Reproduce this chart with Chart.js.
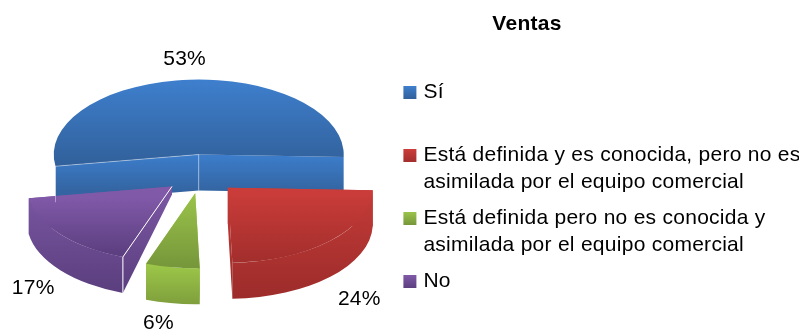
<!DOCTYPE html>
<html>
<head>
<meta charset="utf-8">
<script src="https://cdn.jsdelivr.net/npm/chart.js@4"></script>
<style>
  html, body { margin: 0; padding: 0; background: #fff; }
  canvas { display: block; }
</style>
</head>
<body>
<canvas id="ventasChart" width="799" height="329"></canvas>
<script>
const categories = ["Sí", "Está definida y es conocida, pero no es asimilada por el equipo comercial", "Está definida pero no es conocida y asimilada por el equipo comercial", "No"];
const values = [53, 24, 6, 17];
const legendLines = [
    ["Sí", ""],
    ["Está definida y es conocida, pero no es", "asimilada por el equipo comercial"],
    ["Está definida pero no es conocida y", "asimilada por el equipo comercial"],
    "No"
];

// look of the 3D slices
const topColors = [["#3e7fcd", "#31609a"], ["#cc3d3a", "#a22e2c"], ["#9bc34b", "#76963a"], ["#8059a8", "#5c3f80"]];
const wallColors = [["#3c7dcb", "#3465a2"], ["#c43b38", "#9c2c2a"], ["#9fcb4a", "#7f9f3c"], ["#7a56a2", "#5a3e7d"]];
const legendColors = [["#3e7fcd", "#31609a"], ["#cc3d3a", "#a22e2c"], ["#9bc34b", "#76963a"], ["#8059a8", "#5c3f80"]];
const topSpan = [[-1, 0.16], [0, 1], [0, 1], [0.15, 0.9]];
const wallSpan = [[0, 0], [0, 1], [0.9, 1], [0.1, 0.95]];
const labelNudge = [[-5, -21], [29, 22], [-14, 20], [-27, 18]];
const edgeAlpha = [0.4, 0, 0, 1];
const vertexDepth = [36, 36, 36, 8];

const fontName = "'Liberation Sans', Arial, sans-serif";
const fontSize = 21;
const pieRadius = 145;
const squash = 0.517;
const pieCenterY = 174;
const depth = 36;
const explode = 37.75;
const titleCenterX = 527;

function vertGradient(ctx, y0, y1, colors) {
    const g = ctx.createLinearGradient(0, y0, 0, y1);
    g.addColorStop(0, colors[0]);
    g.addColorStop(1, colors[1]);
    return g;
}

function sliceFrame(arc) {
    const half = (arc.startAngle + arc.endAngle) / 2;
    return {
        x: arc.x + Math.cos(half) * explode,
        y: pieCenterY + Math.sin(half) * explode * squash,
        rx: arc.outerRadius,
        ry: arc.outerRadius * squash
    };
}

const pie3d = {
    id: "pie3d",
    beforeLayout(chart) {
        chart.ctx.letterSpacing = "0.27px";
    },
    afterLayout(chart) {
        // the title sits over the legend, not over the whole canvas
        const t = chart.titleBlock;
        t.left = titleCenterX - 200;
        t.right = titleCenterX + 200;
        // legend clips to its box, let the long line reach the canvas edge
        chart.legend.right = chart.width;
    },
    beforeDatasetsDraw(chart) {
        const ctx = chart.ctx;
        const arcs = chart.getDatasetMeta(0).data;
        // walls first, all of them
        arcs.forEach((arc, i) => {
            const f = sliceFrame(arc);
            const a0 = arc.startAngle, a1 = arc.endAngle;
            const back = Math.sin((a0 + a1) / 2) < 0;
            ctx.fillStyle = vertGradient(ctx, f.y + f.ry * wallSpan[i][0], f.y + f.ry * wallSpan[i][1] + depth, wallColors[i]);
            if (!back) {
                ctx.beginPath();
                ctx.ellipse(f.x, f.y, f.rx, f.ry, 0, a0, a1);
                ctx.ellipse(f.x, f.y + depth, f.rx, f.ry, 0, a1, a0, true);
                ctx.closePath();
                ctx.fill();
            }
            [a0, a1].forEach(a => {
                const ex = f.x + Math.cos(a) * f.rx, ey = f.y + Math.sin(a) * f.ry;
                ctx.beginPath();
                ctx.moveTo(f.x, f.y);
                ctx.lineTo(ex, ey);
                ctx.lineTo(ex, ey + depth);
                ctx.lineTo(f.x, f.y + vertexDepth[i]);
                ctx.closePath();
                ctx.fill();
            });
        });
        // then the tops, squashed and pulled out of the centre
        arcs.forEach(arc => {
            const half = (arc.startAngle + arc.endAngle) / 2;
            ctx.save();
            ctx.translate(Math.cos(half) * explode, pieCenterY + Math.sin(half) * explode * squash);
            ctx.scale(1, squash);
            ctx.translate(0, -arc.y);
            arc.draw(ctx);
            ctx.restore();
        });
        arcs.forEach((arc, i) => {
            const f = sliceFrame(arc);
            if (edgeAlpha[i] > 0) {
                const sx = f.x + Math.cos(arc.startAngle) * f.rx, sy = f.y + Math.sin(arc.startAngle) * f.ry;
                ctx.strokeStyle = "rgba(255,255,255," + edgeAlpha[i] + ")";
                ctx.lineWidth = 1;
                ctx.beginPath();
                ctx.moveTo(f.x, f.y);
                ctx.lineTo(sx, sy);
                ctx.lineTo(sx, sy + depth);
                if (i === 0) {
                    // blue also shows the ridge under its tip
                    ctx.moveTo(f.x, f.y);
                    ctx.lineTo(f.x, f.y + depth);
                }
                ctx.stroke();
            }
            const half = (arc.startAngle + arc.endAngle) / 2;
            const back = Math.sin(half) < 0;
            const lx = f.x + Math.cos(half) * f.rx + labelNudge[i][0];
            const ly = f.y + Math.sin(half) * f.ry + (back ? 0 : depth) + labelNudge[i][1];
            ctx.fillStyle = "#000";
            ctx.font = fontSize + "px " + fontName;
            ctx.textAlign = "center";
            ctx.textBaseline = "middle";
            ctx.fillText(values[i] + "%", lx, ly);
        });
        return false;
    }
};

new Chart(document.getElementById("ventasChart"), {
    type: "pie",
    data: {
        labels: categories,
        datasets: [{
            data: values,
            borderWidth: 0,
            backgroundColor(c) {
                const area = c.chart.chartArea;
                const i = c.dataIndex;
                if (!area || i === undefined) return topColors[0][0];
                const cy = (area.top + area.bottom) / 2;
                return vertGradient(c.chart.ctx, cy + pieRadius * topSpan[i][0], cy + pieRadius * topSpan[i][1], topColors[i]);
            }
        }]
    },
    options: {
        responsive: false,
        animation: false,
        rotation: 261,
        radius: pieRadius,
        layout: { padding: { left: 4.3, right: 7.5 } },
        plugins: {
            tooltip: { enabled: false },
            title: {
                display: true,
                text: "Ventas",
                color: "#000",
                font: { family: fontName, size: fontSize, weight: "bold", lineHeight: "24px" },
                padding: { top: 12, bottom: 37 }
            },
            legend: {
                position: "right",
                align: "start",
                fullSize: false,
                labels: {
                    color: "#000",
                    font: { family: fontName, size: fontSize, lineHeight: "27px" },
                    padding: 9,
                    boxWidth: 6,
                    boxHeight: 13,
                    usePointStyle: true,
                    generateLabels(chart) {
                        return legendLines.map((text, i) => ({
                            text: text,
                            fillStyle: vertGradient(chart.ctx, 86 + 63 * i, 99 + 63 * i, legendColors[i]),
                            strokeStyle: "transparent",
                            lineWidth: 0,
                            pointStyle: "rect",
                            index: i
                        }));
                    }
                }
            }
        }
    },
    plugins: [pie3d]
});
</script>
</body>
</html>
